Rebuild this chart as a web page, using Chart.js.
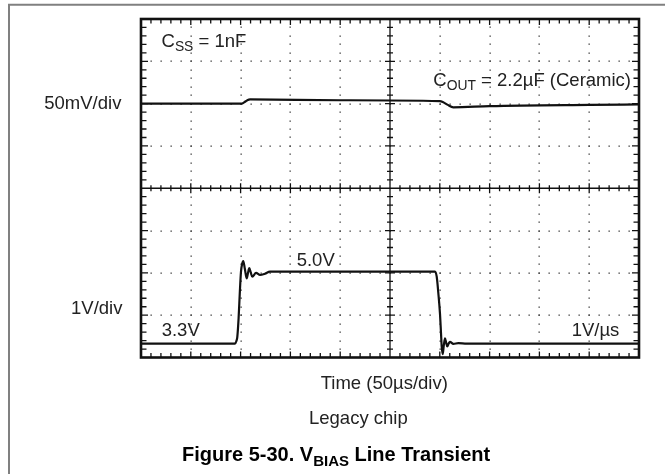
<!DOCTYPE html>
<html>
<head>
<meta charset="utf-8">
<script src="https://cdn.jsdelivr.net/npm/chart.js@4/dist/chart.umd.min.js"></script>
<style>
  html, body { margin: 0; padding: 0; background: #fff; }
  #wrap { position: relative; width: 665px; height: 474px; overflow: hidden; }
  canvas { position: absolute; left: 0; top: 0; }
  .lbl { position: absolute; white-space: nowrap; font-family: "Liberation Sans", Arial, sans-serif;
         font-size: 18.5px; line-height: 18.5px; color: #222; }
  .lbl sub { font-size: 0.75em; vertical-align: -0.3em; line-height: 0; }
  .ttl { font-weight: bold; font-size: 20px; line-height: 20px; color: #000; }
</style>
</head>
<body>
<div id="wrap">
  <canvas id="c" width="665" height="474"></canvas>
</div>
<script>
// ---- data (time in µs, 50 µs/div) ----
const vbiasTime  = [0, 94.4, 95.8, 96.7, 98, 99.3, 100.4, 101.5, 102.7, 104.3, 106.1, 107.5, 108.7, 110.2, 111.7, 115.5, 119.5, 124.5, 129.5,
                    295.2, 296.9, 298.5, 300.2, 301.2, 301.9, 302.9, 304, 305.2, 306.4, 307.5, 308.9, 310.2, 313.6, 318.6, 327, 500];
const vbiasVolts = [3.3, 3.3, 3.36, 3.46, 3.9, 4.55, 5.0, 5.18, 5.25, 5.06, 4.84, 4.98, 5.08, 4.98, 4.88, 4.97, 4.92, 4.95, 5.0,
                    5.0, 4.88, 4.5, 4.0, 3.55, 3.23, 3.05, 3.25, 3.42, 3.32, 3.23, 3.3, 3.34, 3.29, 3.31, 3.3, 3.3];
const voutTime   = [0, 101, 103.5, 106.5, 109.5, 200, 300, 303, 308, 313.5, 350, 450, 500];
const voutMv     = [0, 0, 1.5, 3.8, 5, 4, 3, 2, -1.5, -4.4, -3, -1.5, -1];

// ---- scope settings ----
const timePerDiv = 50;      // µs/div
const xDivs = 10;
const yDivs = 8;
const biasVoltsPerDiv = 1;  // V/div
const biasMin = 2.97;
const outMvPerDiv = 50;     // mV/div
const outMin = -300;

// ---- text labels ----
const labels = [
  { html: 'C<sub>SS</sub> = 1nF', x: 161.5, base: 47.3 },
  { html: 'C<sub>OUT</sub> = 2.2\u00b5F (Ceramic)', x: 433.3, base: 87 },
  { html: '50mV/div', x: 44.3, base: 109.3 },
  { html: '1V/div', x: 71, base: 314.3 },
  { html: '3.3V', x: 161.7, base: 336.7 },
  { html: '5.0V', x: 296.7, base: 266.7 },
  { html: '1V/\u00b5s', x: 571.7, base: 336.7 },
  { html: 'Time (50\u00b5s/div)', x: 320.7, base: 390 },
  { html: 'Legacy chip', x: 309, base: 425 },
  { html: 'Figure 5-30. V<sub>BIAS</sub> Line Transient', x: 182, base: 461, cls: 'ttl', size: 20 }
];

const wrap = document.getElementById('wrap');
labels.forEach(l => {
  const d = document.createElement('div');
  d.className = 'lbl' + (l.cls ? ' ' + l.cls : '');
  d.innerHTML = l.html;
  const size = l.size || 18.5;
  d.style.left = l.x + 'px';
  d.style.top = (l.base - 0.8465 * size) + 'px';
  wrap.appendChild(d);
});

const graticule = {
  id: 'graticule',
  beforeDraw(chart) {
    const ctx = chart.ctx;
    ctx.save();
    ctx.strokeStyle = '#808080';
    ctx.lineWidth = 2;
    ctx.beginPath();
    ctx.moveTo(8, 4.8); ctx.lineTo(665, 4.8);
    ctx.moveTo(9, 4); ctx.lineTo(9, 474);
    ctx.stroke();
    ctx.restore();
  },
  beforeDatasetsDraw(chart) {
    const ctx = chart.ctx;
    const xs = chart.scales.x, yb = chart.scales.yBias;
    const X = d => xs.getPixelForValue(d * timePerDiv);
    const Y = d => yb.getPixelForValue(biasMin + d * biasVoltsPerDiv);
    ctx.save();
    // dotted grid
    ctx.fillStyle = '#3a3a3a';
    for (let k = 1; k < xDivs; k++) {
      if (k === xDivs / 2) continue;
      for (let m = 1; m < yDivs * 5; m++) {
        ctx.fillRect(Math.round(X(k)) - 0.5, Math.round(Y(m / 5)) - 0.5, 1.3, 1.3);
      }
    }
    for (let k = 1; k < yDivs; k++) {
      if (k === yDivs / 2) continue;
      for (let m = 1; m < xDivs * 5; m++) {
        ctx.fillRect(Math.round(X(m / 5)) - 0.5, Math.round(Y(k)) - 0.5, 1.3, 1.3);
      }
    }
    // center axes
    ctx.strokeStyle = '#111';
    ctx.lineWidth = 1.3;
    const cx = X(xDivs / 2), cy = Y(yDivs / 2);
    const L = X(0), R = X(xDivs), T = Y(yDivs), B = Y(0);
    ctx.beginPath();
    ctx.moveTo(L, cy); ctx.lineTo(R, cy);
    ctx.moveTo(cx, T); ctx.lineTo(cx, B);
    // ticks on center horizontal line
    for (let m = 1; m < xDivs * 5; m++) {
      const px = X(m / 5), len = (m % 5 === 0) ? 5 : 3;
      ctx.moveTo(px, cy - len); ctx.lineTo(px, cy + len);
    }
    for (let m = 1; m < yDivs * 5; m++) {
      const py = Y(m / 5), len = (m % 5 === 0) ? 5 : 3;
      ctx.moveTo(cx - len, py); ctx.lineTo(cx + len, py);
    }
    // border ticks
    for (let m = 1; m < yDivs * 5; m++) {
      const py = Y(m / 5), len = (m % 5 === 0) ? 7 : 5.5;
      ctx.moveTo(L, py); ctx.lineTo(L + len, py);
      ctx.moveTo(R, py); ctx.lineTo(R - len, py);
    }
    for (let m = 1; m < xDivs * 5; m++) {
      const px = X(m / 5), len = (m % 5 === 0) ? 6 : 4.5;
      ctx.moveTo(px, T); ctx.lineTo(px, T + len);
      ctx.moveTo(px, B); ctx.lineTo(px, B - len);
    }
    ctx.stroke();
    ctx.restore();
  },
  afterDraw(chart) {
    const ctx = chart.ctx;
    const a = chart.chartArea;
    ctx.save();
    ctx.strokeStyle = '#111';
    ctx.lineWidth = 2.6;
    ctx.strokeRect(a.left, a.top, a.right - a.left, a.bottom - a.top);
    ctx.restore();
  }
};

new Chart(document.getElementById('c'), {
  type: 'line',
  data: {
    datasets: [
      {
        label: 'VBIAS',
        data: vbiasTime.map((t, i) => ({ x: t, y: vbiasVolts[i] })),
        yAxisID: 'yBias',
        borderColor: '#111', borderWidth: 2.2, pointRadius: 0,
        cubicInterpolationMode: 'monotone', fill: false
      },
      {
        label: 'VOUT',
        data: voutTime.map((t, i) => ({ x: t, y: voutMv[i] })),
        yAxisID: 'yOut',
        borderColor: '#111', borderWidth: 2.2, pointRadius: 0,
        cubicInterpolationMode: 'monotone', fill: false
      }
    ]
  },
  options: {
    responsive: false,
    animation: false,
    devicePixelRatio: 1,
    layout: { padding: { left: 141, top: 19, right: 26, bottom: 116.5 } },
    plugins: { legend: { display: false }, tooltip: { enabled: false }, title: { display: false } },
    scales: {
      x: { type: 'linear', min: 0, max: xDivs * timePerDiv, display: false },
      yBias: { type: 'linear', position: 'left', min: biasMin, max: biasMin + yDivs * biasVoltsPerDiv, display: false },
      yOut: { type: 'linear', position: 'right', min: outMin, max: outMin + yDivs * outMvPerDiv, display: false }
    }
  },
  plugins: [graticule]
});
</script>
</body>
</html>
